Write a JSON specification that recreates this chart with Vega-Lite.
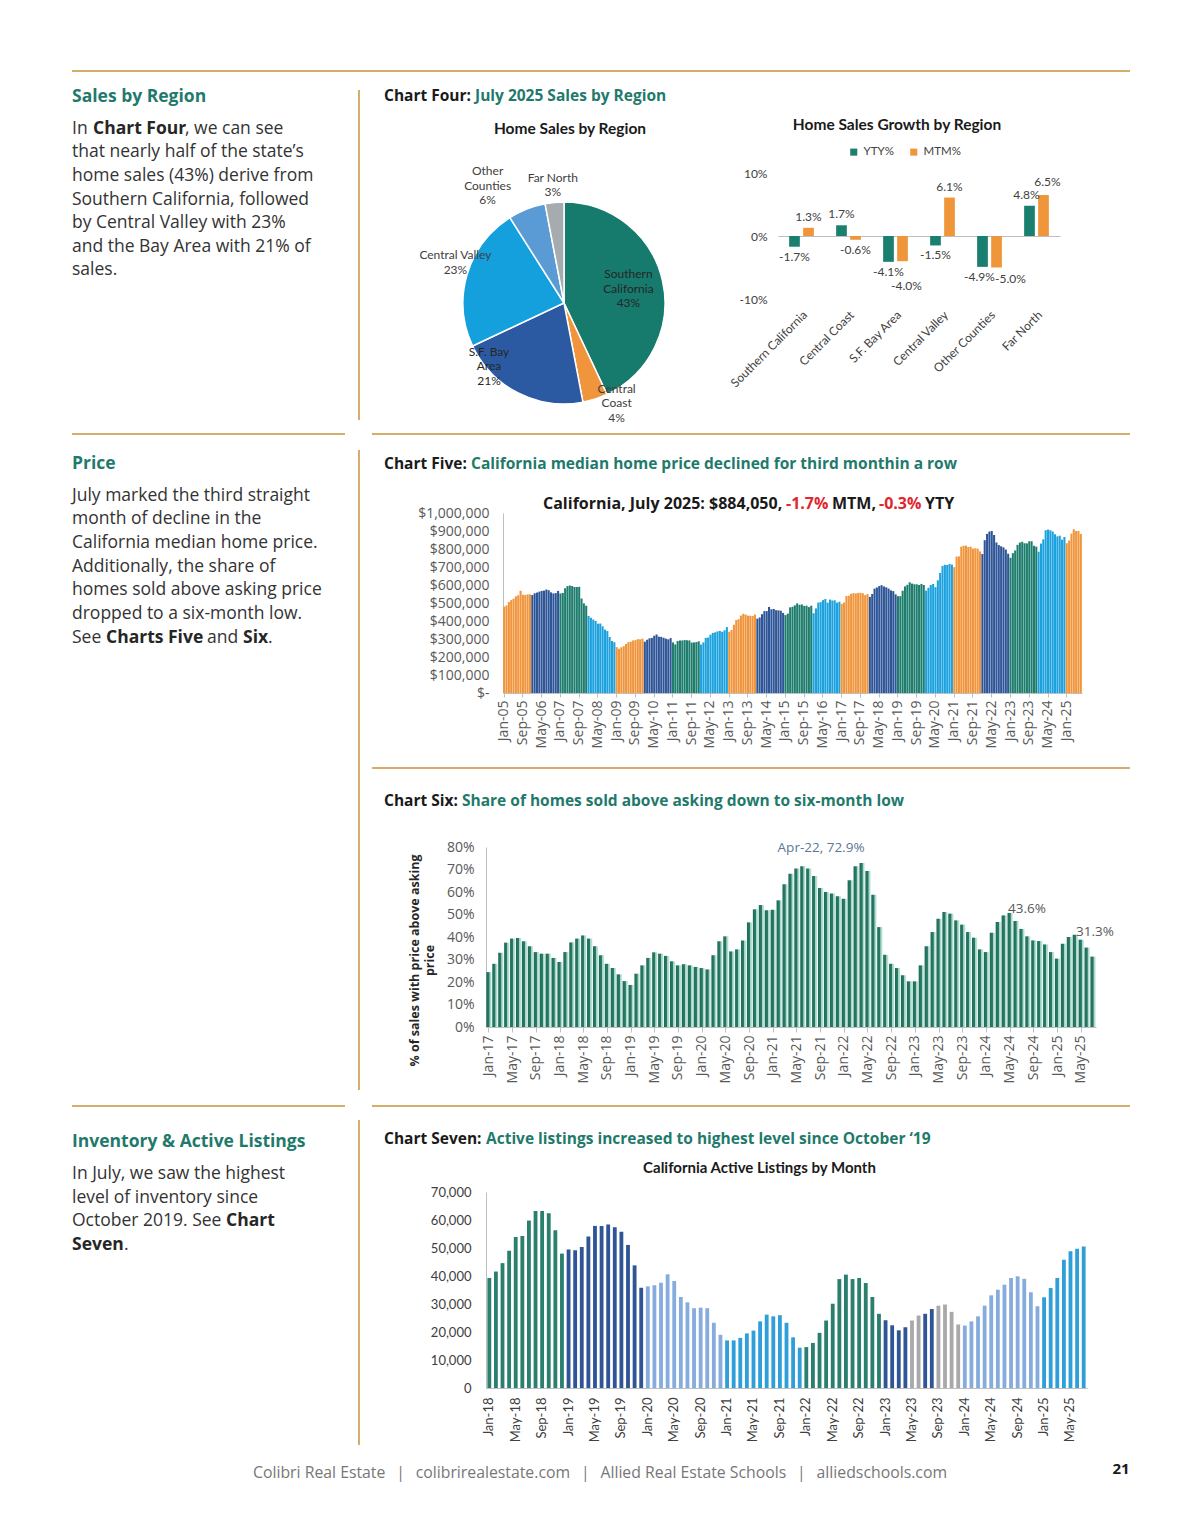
{"$schema":"https://vega.github.io/schema/vega-lite/v6.json",
"background":"white",
"padding":{"left":72,"top":70,"right":70,"bottom":50},
"config":{"view":{"stroke":null},"font":"Open Sans","axis":{"grid":false,"domainColor":"#bfbfbf","tickColor":"#bfbfbf","labelColor":"#595959","titleColor":"#262626"},"title":{"frame":"group"}},
"datasets":{
"pie":[
{"r":"Southern California","s":43,"o":1,"lab":["Southern","California","43%"]},
{"r":"Central Coast","s":4,"o":2,"lab":["Central","Coast","4%"]},
{"r":"S.F. Bay Area","s":21,"o":3,"lab":["S.F. Bay","Area","21%"]},
{"r":"Central Valley","s":23,"o":4,"lab":["Central Valley","23%"]},
{"r":"Other Counties","s":6,"o":5,"lab":["Other","Counties","6%"]},
{"r":"Far North","s":3,"o":6,"lab":["Far North","3%"]}],
"growth":[
{"r":"Southern California","k":"YTY%","v":-0.017},{"r":"Southern California","k":"MTM%","v":0.013},
{"r":"Central Coast","k":"YTY%","v":0.017},{"r":"Central Coast","k":"MTM%","v":-0.006},
{"r":"S.F. Bay Area","k":"YTY%","v":-0.041},{"r":"S.F. Bay Area","k":"MTM%","v":-0.040},
{"r":"Central Valley","k":"YTY%","v":-0.015},{"r":"Central Valley","k":"MTM%","v":0.061},
{"r":"Other Counties","k":"YTY%","v":-0.049},{"r":"Other Counties","k":"MTM%","v":-0.050},
{"r":"Far North","k":"YTY%","v":0.048},{"r":"Far North","k":"MTM%","v":0.065}],
"price":[
{"m":"Jan-05","v":480000,"y":"2005"},{"m":"Feb-05","v":486000,"y":"2005"},{"m":"Mar-05","v":505000,"y":"2005"},{"m":"Apr-05","v":516000,"y":"2005"},{"m":"May-05","v":524000,"y":"2005"},{"m":"Jun-05","v":537000,"y":"2005"},{"m":"Jul-05","v":543000,"y":"2005"},{"m":"Aug-05","v":568000,"y":"2005"},{"m":"Sep-05","v":546000,"y":"2005"},{"m":"Oct-05","v":544000,"y":"2005"},{"m":"Nov-05","v":548000,"y":"2005"},{"m":"Dec-05","v":548000,"y":"2005"},
{"m":"Jan-06","v":544000,"y":"2006"},{"m":"Feb-06","v":554000,"y":"2006"},{"m":"Mar-06","v":558000,"y":"2006"},{"m":"Apr-06","v":563000,"y":"2006"},{"m":"May-06","v":567000,"y":"2006"},{"m":"Jun-06","v":569000,"y":"2006"},{"m":"Jul-06","v":575000,"y":"2006"},{"m":"Aug-06","v":571000,"y":"2006"},{"m":"Sep-06","v":559000,"y":"2006"},{"m":"Oct-06","v":553000,"y":"2006"},{"m":"Nov-06","v":555000,"y":"2006"},{"m":"Dec-06","v":567000,"y":"2006"},
{"m":"Jan-07","v":553000,"y":"2007"},{"m":"Feb-07","v":556000,"y":"2007"},{"m":"Mar-07","v":582000,"y":"2007"},{"m":"Apr-07","v":594000,"y":"2007"},{"m":"May-07","v":597000,"y":"2007"},{"m":"Jun-07","v":594000,"y":"2007"},{"m":"Jul-07","v":589000,"y":"2007"},{"m":"Aug-07","v":589000,"y":"2007"},{"m":"Sep-07","v":590000,"y":"2007"},{"m":"Oct-07","v":525000,"y":"2007"},{"m":"Nov-07","v":498000,"y":"2007"},{"m":"Dec-07","v":485000,"y":"2007"},
{"m":"Jan-08","v":428000,"y":"2008"},{"m":"Feb-08","v":418000,"y":"2008"},{"m":"Mar-08","v":408000,"y":"2008"},{"m":"Apr-08","v":400000,"y":"2008"},{"m":"May-08","v":385000,"y":"2008"},{"m":"Jun-08","v":386000,"y":"2008"},{"m":"Jul-08","v":370000,"y":"2008"},{"m":"Aug-08","v":352000,"y":"2008"},{"m":"Sep-08","v":344000,"y":"2008"},{"m":"Oct-08","v":311000,"y":"2008"},{"m":"Nov-08","v":289000,"y":"2008"},{"m":"Dec-08","v":282000,"y":"2008"},
{"m":"Jan-09","v":255000,"y":"2009"},{"m":"Feb-09","v":246000,"y":"2009"},{"m":"Mar-09","v":254000,"y":"2009"},{"m":"Apr-09","v":260000,"y":"2009"},{"m":"May-09","v":272000,"y":"2009"},{"m":"Jun-09","v":283000,"y":"2009"},{"m":"Jul-09","v":285000,"y":"2009"},{"m":"Aug-09","v":292000,"y":"2009"},{"m":"Sep-09","v":294000,"y":"2009"},{"m":"Oct-09","v":299000,"y":"2009"},{"m":"Nov-09","v":298000,"y":"2009"},{"m":"Dec-09","v":302000,"y":"2009"},
{"m":"Jan-10","v":285000,"y":"2010"},{"m":"Feb-10","v":296000,"y":"2010"},{"m":"Mar-10","v":304000,"y":"2010"},{"m":"Apr-10","v":306000,"y":"2010"},{"m":"May-10","v":318000,"y":"2010"},{"m":"Jun-10","v":325000,"y":"2010"},{"m":"Jul-10","v":313000,"y":"2010"},{"m":"Aug-10","v":312000,"y":"2010"},{"m":"Sep-10","v":307000,"y":"2010"},{"m":"Oct-10","v":302000,"y":"2010"},{"m":"Nov-10","v":298000,"y":"2010"},{"m":"Dec-10","v":305000,"y":"2010"},
{"m":"Jan-11","v":281000,"y":"2011"},{"m":"Feb-11","v":270000,"y":"2011"},{"m":"Mar-11","v":289000,"y":"2011"},{"m":"Apr-11","v":292000,"y":"2011"},{"m":"May-11","v":292000,"y":"2011"},{"m":"Jun-11","v":294000,"y":"2011"},{"m":"Jul-11","v":293000,"y":"2011"},{"m":"Aug-11","v":292000,"y":"2011"},{"m":"Sep-11","v":280000,"y":"2011"},{"m":"Oct-11","v":281000,"y":"2011"},{"m":"Nov-11","v":283000,"y":"2011"},{"m":"Dec-11","v":287000,"y":"2011"},
{"m":"Jan-12","v":269000,"y":"2012"},{"m":"Feb-12","v":281000,"y":"2012"},{"m":"Mar-12","v":306000,"y":"2012"},{"m":"Apr-12","v":308000,"y":"2012"},{"m":"May-12","v":324000,"y":"2012"},{"m":"Jun-12","v":334000,"y":"2012"},{"m":"Jul-12","v":337000,"y":"2012"},{"m":"Aug-12","v":342000,"y":"2012"},{"m":"Sep-12","v":345000,"y":"2012"},{"m":"Oct-12","v":340000,"y":"2012"},{"m":"Nov-12","v":348000,"y":"2012"},{"m":"Dec-12","v":366000,"y":"2012"},
{"m":"Jan-13","v":340000,"y":"2013"},{"m":"Feb-13","v":350000,"y":"2013"},{"m":"Mar-13","v":379000,"y":"2013"},{"m":"Apr-13","v":405000,"y":"2013"},{"m":"May-13","v":410000,"y":"2013"},{"m":"Jun-13","v":430000,"y":"2013"},{"m":"Jul-13","v":440000,"y":"2013"},{"m":"Aug-13","v":436000,"y":"2013"},{"m":"Sep-13","v":430000,"y":"2013"},{"m":"Oct-13","v":429000,"y":"2013"},{"m":"Nov-13","v":428000,"y":"2013"},{"m":"Dec-13","v":436000,"y":"2013"},
{"m":"Jan-14","v":413000,"y":"2014"},{"m":"Feb-14","v":419000,"y":"2014"},{"m":"Mar-14","v":438000,"y":"2014"},{"m":"Apr-14","v":455000,"y":"2014"},{"m":"May-14","v":455000,"y":"2014"},{"m":"Jun-14","v":478000,"y":"2014"},{"m":"Jul-14","v":465000,"y":"2014"},{"m":"Aug-14","v":467000,"y":"2014"},{"m":"Sep-14","v":460000,"y":"2014"},{"m":"Oct-14","v":459000,"y":"2014"},{"m":"Nov-14","v":457000,"y":"2014"},{"m":"Dec-14","v":445000,"y":"2014"},
{"m":"Jan-15","v":433000,"y":"2015"},{"m":"Feb-15","v":441000,"y":"2015"},{"m":"Mar-15","v":476000,"y":"2015"},{"m":"Apr-15","v":479000,"y":"2015"},{"m":"May-15","v":487000,"y":"2015"},{"m":"Jun-15","v":498000,"y":"2015"},{"m":"Jul-15","v":490000,"y":"2015"},{"m":"Aug-15","v":492000,"y":"2015"},{"m":"Sep-15","v":484000,"y":"2015"},{"m":"Oct-15","v":485000,"y":"2015"},{"m":"Nov-15","v":477000,"y":"2015"},{"m":"Dec-15","v":485000,"y":"2015"},
{"m":"Jan-16","v":443000,"y":"2016"},{"m":"Feb-16","v":470000,"y":"2016"},{"m":"Mar-16","v":502000,"y":"2016"},{"m":"Apr-16","v":505000,"y":"2016"},{"m":"May-16","v":516000,"y":"2016"},{"m":"Jun-16","v":522000,"y":"2016"},{"m":"Jul-16","v":502000,"y":"2016"},{"m":"Aug-16","v":519000,"y":"2016"},{"m":"Sep-16","v":514000,"y":"2016"},{"m":"Oct-16","v":515000,"y":"2016"},{"m":"Nov-16","v":502000,"y":"2016"},{"m":"Dec-16","v":507000,"y":"2016"},
{"m":"Jan-17","v":495000,"y":"2017"},{"m":"Feb-17","v":503000,"y":"2017"},{"m":"Mar-17","v":539000,"y":"2017"},{"m":"Apr-17","v":540000,"y":"2017"},{"m":"May-17","v":551000,"y":"2017"},{"m":"Jun-17","v":555000,"y":"2017"},{"m":"Jul-17","v":553000,"y":"2017"},{"m":"Aug-17","v":556000,"y":"2017"},{"m":"Sep-17","v":557000,"y":"2017"},{"m":"Oct-17","v":554000,"y":"2017"},{"m":"Nov-17","v":544000,"y":"2017"},{"m":"Dec-17","v":550000,"y":"2017"},
{"m":"Jan-18","v":534000,"y":"2018"},{"m":"Feb-18","v":550000,"y":"2018"},{"m":"Mar-18","v":580000,"y":"2018"},{"m":"Apr-18","v":586000,"y":"2018"},{"m":"May-18","v":594000,"y":"2018"},{"m":"Jun-18","v":599000,"y":"2018"},{"m":"Jul-18","v":592000,"y":"2018"},{"m":"Aug-18","v":587000,"y":"2018"},{"m":"Sep-18","v":580000,"y":"2018"},{"m":"Oct-18","v":570000,"y":"2018"},{"m":"Nov-18","v":566000,"y":"2018"},{"m":"Dec-18","v":548000,"y":"2018"},
{"m":"Jan-19","v":538000,"y":"2019"},{"m":"Feb-19","v":538000,"y":"2019"},{"m":"Mar-19","v":568000,"y":"2019"},{"m":"Apr-19","v":592000,"y":"2019"},{"m":"May-19","v":601000,"y":"2019"},{"m":"Jun-19","v":615000,"y":"2019"},{"m":"Jul-19","v":608000,"y":"2019"},{"m":"Aug-19","v":604000,"y":"2019"},{"m":"Sep-19","v":604000,"y":"2019"},{"m":"Oct-19","v":600000,"y":"2019"},{"m":"Nov-19","v":606000,"y":"2019"},{"m":"Dec-19","v":600000,"y":"2019"},
{"m":"Jan-20","v":569000,"y":"2020"},{"m":"Feb-20","v":585000,"y":"2020"},{"m":"Mar-20","v":600000,"y":"2020"},{"m":"Apr-20","v":606000,"y":"2020"},{"m":"May-20","v":588000,"y":"2020"},{"m":"Jun-20","v":626000,"y":"2020"},{"m":"Jul-20","v":667000,"y":"2020"},{"m":"Aug-20","v":706000,"y":"2020"},{"m":"Sep-20","v":712000,"y":"2020"},{"m":"Oct-20","v":711000,"y":"2020"},{"m":"Nov-20","v":717000,"y":"2020"},{"m":"Dec-20","v":713000,"y":"2020"},
{"m":"Jan-21","v":699000,"y":"2021"},{"m":"Feb-21","v":758000,"y":"2021"},{"m":"Mar-21","v":759000,"y":"2021"},{"m":"Apr-21","v":813000,"y":"2021"},{"m":"May-21","v":818000,"y":"2021"},{"m":"Jun-21","v":819000,"y":"2021"},{"m":"Jul-21","v":811000,"y":"2021"},{"m":"Aug-21","v":813000,"y":"2021"},{"m":"Sep-21","v":802000,"y":"2021"},{"m":"Oct-21","v":804000,"y":"2021"},{"m":"Nov-21","v":802000,"y":"2021"},{"m":"Dec-21","v":787000,"y":"2021"},
{"m":"Jan-22","v":772000,"y":"2022"},{"m":"Feb-22","v":849000,"y":"2022"},{"m":"Mar-22","v":884000,"y":"2022"},{"m":"Apr-22","v":897000,"y":"2022"},{"m":"May-22","v":900000,"y":"2022"},{"m":"Jun-22","v":878000,"y":"2022"},{"m":"Jul-22","v":836000,"y":"2022"},{"m":"Aug-22","v":822000,"y":"2022"},{"m":"Sep-22","v":815000,"y":"2022"},{"m":"Oct-22","v":809000,"y":"2022"},{"m":"Nov-22","v":797000,"y":"2022"},{"m":"Dec-22","v":774000,"y":"2022"},
{"m":"Jan-23","v":751000,"y":"2023"},{"m":"Feb-23","v":777000,"y":"2023"},{"m":"Mar-23","v":792000,"y":"2023"},{"m":"Apr-23","v":823000,"y":"2023"},{"m":"May-23","v":836000,"y":"2023"},{"m":"Jun-23","v":840000,"y":"2023"},{"m":"Jul-23","v":832000,"y":"2023"},{"m":"Aug-23","v":831000,"y":"2023"},{"m":"Sep-23","v":843000,"y":"2023"},{"m":"Oct-23","v":843000,"y":"2023"},{"m":"Nov-23","v":818000,"y":"2023"},{"m":"Dec-23","v":813000,"y":"2023"},
{"m":"Jan-24","v":785000,"y":"2024"},{"m":"Feb-24","v":830000,"y":"2024"},{"m":"Mar-24","v":854000,"y":"2024"},{"m":"Apr-24","v":904000,"y":"2024"},{"m":"May-24","v":908000,"y":"2024"},{"m":"Jun-24","v":904000,"y":"2024"},{"m":"Jul-24","v":897000,"y":"2024"},{"m":"Aug-24","v":882000,"y":"2024"},{"m":"Sep-24","v":870000,"y":"2024"},{"m":"Oct-24","v":874000,"y":"2024"},{"m":"Nov-24","v":852000,"y":"2024"},{"m":"Dec-24","v":867000,"y":"2024"},
{"m":"Jan-25","v":832000,"y":"2025"},{"m":"Feb-25","v":847000,"y":"2025"},{"m":"Mar-25","v":885000,"y":"2025"},{"m":"Apr-25","v":910000,"y":"2025"},{"m":"May-25","v":900000,"y":"2025"},{"m":"Jun-25","v":900000,"y":"2025"},{"m":"Jul-25","v":884000,"y":"2025"}],
"share":[
{"m":"Jan-17","v":0.244},{"m":"Feb-17","v":0.281},{"m":"Mar-17","v":0.330},{"m":"Apr-17","v":0.375},{"m":"May-17","v":0.393},{"m":"Jun-17","v":0.396},{"m":"Jul-17","v":0.381},{"m":"Aug-17","v":0.359},{"m":"Sep-17","v":0.333},{"m":"Oct-17","v":0.326},{"m":"Nov-17","v":0.326},{"m":"Dec-17","v":0.307},
{"m":"Jan-18","v":0.289},{"m":"Feb-18","v":0.333},{"m":"Mar-18","v":0.376},{"m":"Apr-18","v":0.393},{"m":"May-18","v":0.407},{"m":"Jun-18","v":0.393},{"m":"Jul-18","v":0.359},{"m":"Aug-18","v":0.319},{"m":"Sep-18","v":0.281},{"m":"Oct-18","v":0.262},{"m":"Nov-18","v":0.234},{"m":"Dec-18","v":0.204},
{"m":"Jan-19","v":0.187},{"m":"Feb-19","v":0.237},{"m":"Mar-19","v":0.274},{"m":"Apr-19","v":0.307},{"m":"May-19","v":0.332},{"m":"Jun-19","v":0.326},{"m":"Jul-19","v":0.316},{"m":"Aug-19","v":0.292},{"m":"Sep-19","v":0.274},{"m":"Oct-19","v":0.279},{"m":"Nov-19","v":0.274},{"m":"Dec-19","v":0.267},
{"m":"Jan-20","v":0.262},{"m":"Feb-20","v":0.256},{"m":"Mar-20","v":0.319},{"m":"Apr-20","v":0.381},{"m":"May-20","v":0.403},{"m":"Jun-20","v":0.336},{"m":"Jul-20","v":0.345},{"m":"Aug-20","v":0.385},{"m":"Sep-20","v":0.465},{"m":"Oct-20","v":0.523},{"m":"Nov-20","v":0.542},{"m":"Dec-20","v":0.519},
{"m":"Jan-21","v":0.521},{"m":"Feb-21","v":0.563},{"m":"Mar-21","v":0.634},{"m":"Apr-21","v":0.681},{"m":"May-21","v":0.704},{"m":"Jun-21","v":0.714},{"m":"Jul-21","v":0.704},{"m":"Aug-21","v":0.671},{"m":"Sep-21","v":0.618},{"m":"Oct-21","v":0.600},{"m":"Nov-21","v":0.593},{"m":"Dec-21","v":0.581},
{"m":"Jan-22","v":0.570},{"m":"Feb-22","v":0.652},{"m":"Mar-22","v":0.714},{"m":"Apr-22","v":0.729,"lab":"Apr-22, 72.9%"},{"m":"May-22","v":0.693},{"m":"Jun-22","v":0.588},{"m":"Jul-22","v":0.444},{"m":"Aug-22","v":0.321},{"m":"Sep-22","v":0.281},{"m":"Oct-22","v":0.262},{"m":"Nov-22","v":0.230},{"m":"Dec-22","v":0.203},
{"m":"Jan-23","v":0.203},{"m":"Feb-23","v":0.274},{"m":"Mar-23","v":0.359},{"m":"Apr-23","v":0.422},{"m":"May-23","v":0.481},{"m":"Jun-23","v":0.511},{"m":"Jul-23","v":0.504},{"m":"Aug-23","v":0.474},{"m":"Sep-23","v":0.455},{"m":"Oct-23","v":0.422},{"m":"Nov-23","v":0.397},{"m":"Dec-23","v":0.345},
{"m":"Jan-24","v":0.333},{"m":"Feb-24","v":0.419},{"m":"Mar-24","v":0.467},{"m":"Apr-24","v":0.496},{"m":"May-24","v":0.507},{"m":"Jun-24","v":0.471},{"m":"Jul-24","v":0.436,"lab":"43.6%"},{"m":"Aug-24","v":0.403},{"m":"Sep-24","v":0.385},{"m":"Oct-24","v":0.382},{"m":"Nov-24","v":0.367},{"m":"Dec-24","v":0.333},
{"m":"Jan-25","v":0.304},{"m":"Feb-25","v":0.370},{"m":"Mar-25","v":0.400},{"m":"Apr-25","v":0.410},{"m":"May-25","v":0.388},{"m":"Jun-25","v":0.353},{"m":"Jul-25","v":0.313,"lab":"31.3%"}],
"listings":[
{"m":"Jan-18","v":39300,"c":"2018"},{"m":"Feb-18","v":41600,"c":"2018"},{"m":"Mar-18","v":44600,"c":"2018"},{"m":"Apr-18","v":49000,"c":"2018"},{"m":"May-18","v":53900,"c":"2018"},{"m":"Jun-18","v":54300,"c":"2018"},{"m":"Jul-18","v":59800,"c":"2018"},{"m":"Aug-18","v":63200,"c":"2018"},{"m":"Sep-18","v":63200,"c":"2018"},{"m":"Oct-18","v":62400,"c":"2018"},{"m":"Nov-18","v":56300,"c":"2018"},{"m":"Dec-18","v":48000,"c":"2018"},
{"m":"Jan-19","v":49500,"c":"2019"},{"m":"Feb-19","v":49200,"c":"2019"},{"m":"Mar-19","v":50400,"c":"2019"},{"m":"Apr-19","v":54100,"c":"2019"},{"m":"May-19","v":57900,"c":"2019"},{"m":"Jun-19","v":57900,"c":"2019"},{"m":"Jul-19","v":58400,"c":"2019"},{"m":"Aug-19","v":57400,"c":"2019"},{"m":"Sep-19","v":55800,"c":"2019"},{"m":"Oct-19","v":51100,"c":"2019"},{"m":"Nov-19","v":43800,"c":"2019"},{"m":"Dec-19","v":35800,"c":"2019"},
{"m":"Jan-20","v":36300,"c":"2020"},{"m":"Feb-20","v":36700,"c":"2020"},{"m":"Mar-20","v":37600,"c":"2020"},{"m":"Apr-20","v":40600,"c":"2020"},{"m":"May-20","v":38200,"c":"2020"},{"m":"Jun-20","v":32500,"c":"2020"},{"m":"Jul-20","v":30600,"c":"2020"},{"m":"Aug-20","v":28500,"c":"2020"},{"m":"Sep-20","v":28700,"c":"2020"},{"m":"Oct-20","v":28500,"c":"2020"},{"m":"Nov-20","v":23300,"c":"2020"},{"m":"Dec-20","v":19000,"c":"2020"},
{"m":"Jan-21","v":17000,"c":"2021"},{"m":"Feb-21","v":17000,"c":"2021"},{"m":"Mar-21","v":17900,"c":"2021"},{"m":"Apr-21","v":19500,"c":"2021"},{"m":"May-21","v":20500,"c":"2021"},{"m":"Jun-21","v":23800,"c":"2021"},{"m":"Jul-21","v":26200,"c":"2021"},{"m":"Aug-21","v":25600,"c":"2021"},{"m":"Sep-21","v":26000,"c":"2021"},{"m":"Oct-21","v":23300,"c":"2021"},{"m":"Nov-21","v":18100,"c":"2021"},{"m":"Dec-21","v":14400,"c":"2021"},
{"m":"Jan-22","v":14600,"c":"2022"},{"m":"Feb-22","v":16100,"c":"2022"},{"m":"Mar-22","v":19700,"c":"2022"},{"m":"Apr-22","v":24100,"c":"2022"},{"m":"May-22","v":30100,"c":"2022"},{"m":"Jun-22","v":38900,"c":"2022"},{"m":"Jul-22","v":40500,"c":"2022"},{"m":"Aug-22","v":38900,"c":"2022"},{"m":"Sep-22","v":39300,"c":"2022"},{"m":"Oct-22","v":37500,"c":"2022"},{"m":"Nov-22","v":32500,"c":"2022"},{"m":"Dec-22","v":26500,"c":"2022"},
{"m":"Jan-23","v":24200,"c":"2023a"},{"m":"Feb-23","v":22400,"c":"2023a"},{"m":"Mar-23","v":20600,"c":"2023a"},{"m":"Apr-23","v":21700,"c":"2023a"},{"m":"May-23","v":24100,"c":"2023b"},{"m":"Jun-23","v":25900,"c":"2023b"},{"m":"Jul-23","v":26500,"c":"2023a"},{"m":"Aug-23","v":28200,"c":"2023a"},{"m":"Sep-23","v":29400,"c":"2023b"},{"m":"Oct-23","v":29800,"c":"2023b"},{"m":"Nov-23","v":27200,"c":"2023b"},{"m":"Dec-23","v":22700,"c":"2023b"},
{"m":"Jan-24","v":22300,"c":"2024"},{"m":"Feb-24","v":23800,"c":"2024"},{"m":"Mar-24","v":25600,"c":"2024"},{"m":"Apr-24","v":29400,"c":"2024"},{"m":"May-24","v":33100,"c":"2024"},{"m":"Jun-24","v":35100,"c":"2024"},{"m":"Jul-24","v":36900,"c":"2024"},{"m":"Aug-24","v":39300,"c":"2024"},{"m":"Sep-24","v":39900,"c":"2024"},{"m":"Oct-24","v":39000,"c":"2024"},{"m":"Nov-24","v":34200,"c":"2024"},{"m":"Dec-24","v":29200,"c":"2024"},
{"m":"Jan-25","v":32400,"c":"2025"},{"m":"Feb-25","v":35700,"c":"2025"},{"m":"Mar-25","v":39300,"c":"2025"},{"m":"Apr-25","v":45800,"c":"2025"},{"m":"May-25","v":48800,"c":"2025"},{"m":"Jun-25","v":49700,"c":"2025"},{"m":"Jul-25","v":50500,"c":"2025"}]
},
"spacing":0,"bounds":"flush",
"resolve":{"scale":{"color":"independent"},"legend":{"color":"independent"}},
"vconcat":[
{"spacing":0,"bounds":"flush","hconcat":[
 {"width":300,"height":2,"data":{"values":[]},"mark":"rule","encoding":{},"view":{"fill":"#d6ad6a","stroke":null},
  "title":{"text":"Sales by Region","orient":"bottom","anchor":"start","frame":"group","offset":16,"font":"Open Sans","fontSize":17.5,"fontWeight":"bold","color":"#1f7a6c",
   "subtitle":["","that nearly half of the state’s","home sales (43%) derive from","Southern California, followed","by Central Valley with 23%","and the Bay Area with 21% of","sales."],
   "subtitleFont":"Open Sans","subtitleFontSize":17.5,"subtitleColor":"#333333","subtitleLineHeight":23.6,"subtitlePadding":14.4}},
 {"width":103,"height":2,"data":{"values":[]},"mark":"rule","encoding":{},"view":{"fill":"#d6ad6a","stroke":null},
  "title":{"text":"Chart Four:","orient":"bottom","anchor":"start","frame":"group","offset":16.8,"dx":12,"font":"Open Sans","fontSize":15.5,"fontWeight":"bold","color":"#1a1a1a"}},
 {"width":655,"height":2,"data":{"values":[]},"mark":"rule","encoding":{},"view":{"fill":"#d6ad6a","stroke":null},
  "title":{"text":"July 2025 Sales by Region","orient":"bottom","anchor":"start","frame":"group","offset":16.8,"font":"Open Sans","fontSize":15.5,"fontWeight":"bold","color":"#1f7a6c"}}
]},
{"spacing":0,"bounds":"flush","hconcat":[
 {"width":20.1,"height":2,"data":{"values":[]},"mark":"rule","encoding":{},"title":{"text":"In","orient":"bottom","anchor":"start","frame":"group","offset":47.9,"font":"Open Sans","fontSize":17.5,"fontWeight":"normal","color":"#333333"}},
 {"width":91.9,"height":2,"data":{"values":[]},"mark":"rule","encoding":{},"title":{"text":"Chart Four","orient":"bottom","anchor":"start","frame":"group","offset":47.9,"font":"Open Sans","fontSize":17.5,"fontWeight":"bold","color":"#262626"}},
 {"width":180,"height":2,"data":{"values":[]},"mark":"rule","encoding":{},"title":{"text":", we can see","orient":"bottom","anchor":"start","frame":"group","offset":47.9,"font":"Open Sans","fontSize":17.5,"fontWeight":"normal","color":"#333333"}}
]},
{"width":1058,"height":2,"data":{"values":[]},"mark":"rule","encoding":{}},
{"spacing":0,"bounds":"flush","resolve":{"scale":{"color":"independent"},"legend":{"color":"independent"}},"hconcat":[
 {"width":286,"height":1,"data":{"values":[]},"mark":"rule","encoding":{}},
 {"spacing":0,"bounds":"flush","vconcat":[
  {"width":2,"height":18,"data":{"values":[]},"mark":"rule","encoding":{}},
  {"width":2,"height":330,"data":{"values":[]},"mark":"rule","encoding":{},"view":{"fill":"#d6ad6a","stroke":null}}]},
 {"width":105,"height":1,"data":{"values":[]},"mark":"rule","encoding":{}},
 {"spacing":0,"bounds":"flush","resolve":{"scale":{"color":"independent"},"legend":{"color":"independent"}},"vconcat":[
  {"width":202,"height":130,"data":{"values":[]},"mark":"rule","encoding":{}},
  {"width":202,"height":202,"data":{"name":"pie"},
   "title":{"text":"Home Sales by Region","anchor":"middle","frame":"group","offset":11,"dx":6,"font":"Lato","fontSize":15.5,"fontWeight":"bold","color":"#1a1a1a"},
   "encoding":{"theta":{"field":"s","type":"quantitative","stack":true},"order":{"field":"o","type":"quantitative"}},
   "layer":[
    {"mark":{"type":"arc","stroke":"white","strokeWidth":1.5},"encoding":{"color":{"field":"r","type":"nominal","scale":{"domain":["Southern California","Central Coast","S.F. Bay Area","Central Valley","Other Counties","Far North"],"range":["#167a6c","#f0953c","#2b5aa3","#14a0dc","#5b9bd5","#a5abae"]},"legend":null}}},
    {"mark":{"type":"text","radius":66,"dy":-14.5,"font":"Lato","fontSize":12,"lineHeight":14.5,"color":"#262626"},"encoding":{"text":{"field":"lab"},"opacity":{"condition":{"test":"datum.o == 1","value":1},"value":0}}},
    {"mark":{"type":"text","radius":113,"thetaOffset":-0.17,"dy":-14.5,"font":"Lato","fontSize":12,"lineHeight":14.5,"color":"#404040"},"encoding":{"text":{"field":"lab"},"opacity":{"condition":{"test":"datum.o == 2","value":1},"value":0}}},
    {"mark":{"type":"text","radius":98,"thetaOffset":0.4,"dy":-14.5,"font":"Lato","fontSize":12,"lineHeight":14.5,"color":"#262626"},"encoding":{"text":{"field":"lab"},"opacity":{"condition":{"test":"datum.o == 3","value":1},"value":0}}},
    {"mark":{"type":"text","radius":116,"thetaOffset":0.077,"dy":-7,"font":"Lato","fontSize":12,"lineHeight":14.5,"color":"#404040"},"encoding":{"text":{"field":"lab"},"opacity":{"condition":{"test":"datum.o == 4","value":1},"value":0}}},
    {"mark":{"type":"text","radius":140,"thetaOffset":-0.2,"dy":-14.5,"font":"Lato","fontSize":12,"lineHeight":14.5,"color":"#404040"},"encoding":{"text":{"field":"lab"},"opacity":{"condition":{"test":"datum.o == 5","value":1},"value":0}}},
    {"mark":{"type":"text","radius":119,"dy":-7,"font":"Lato","fontSize":12,"lineHeight":14.5,"color":"#404040"},"encoding":{"text":{"field":"lab"},"opacity":{"condition":{"test":"datum.o == 6","value":1},"value":0}}}
   ]}]},
 {"width":315,"height":1,"data":{"values":[]},"mark":"rule","encoding":{}},
 {"spacing":0,"bounds":"flush","resolve":{"scale":{"color":"independent"},"legend":{"color":"independent"}},"vconcat":[
  {"width":282,"height":101,"data":{"values":[]},"mark":"rule","encoding":{}},
  {"width":282,"height":126,"data":{"name":"growth"},
   "title":{"text":"Home Sales Growth by Region","anchor":"middle","frame":"group","offset":12.7,"dx":-22,"font":"Lato","fontSize":15.5,"fontWeight":"bold","color":"#1a1a1a"},
   "encoding":{
    "x":{"field":"r","type":"nominal","sort":null,"scale":{"paddingInner":0.474,"paddingOuter":0.237},"axis":{"title":null,"labelAngle":-45,"domain":false,"ticks":false,"labelFont":"Lato","labelFontSize":12,"labelColor":"#404040","labelPadding":10,"labelOverlap":false}},
    "xOffset":{"field":"k","type":"nominal","sort":["YTY%","MTM%"],"scale":{"paddingInner":0.236}},
    "y":{"field":"v","type":"quantitative","scale":{"domain":[-0.1,0.1]},"axis":{"title":null,"values":[-0.1,0,0.1],"labelExpr":"replace(format(datum.value, '.0%'), '\u2212', '-')","domain":false,"ticks":false,"grid":true,"gridColor":{"condition":{"test":"datum.value === 0","value":"#bfbfbf"},"value":"transparent"},"labelFont":"Lato","labelFontSize":12,"labelColor":"#404040","labelPadding":11}}},
   "layer":[
    {"mark":{"type":"bar"},"encoding":{"color":{"field":"k","type":"nominal","sort":["YTY%","MTM%"],"scale":{"domain":["YTY%","MTM%"],"range":["#1a7f6e","#f0963a"]},"legend":{"orient":"none","legendX":70,"legendY":-27,"direction":"horizontal","title":null,"symbolType":"square","symbolSize":50,"symbolStrokeWidth":0,"labelFont":"Lato","labelFontSize":11.5,"labelColor":"#404040","columnPadding":14,"padding":0}}}},
    {"transform":[{"filter":"datum.v > 0 && datum.r != 'Far North'"}],"mark":{"type":"text","baseline":"bottom","dy":-4,"font":"Lato","fontSize":12,"color":"#404040","text":{"expr":"replace(format(datum.v, '.1%'), '\u2212', '-')"}}},
    {"transform":[{"filter":"datum.r == 'Far North' && datum.k == 'YTY%'"}],"mark":{"type":"text","baseline":"bottom","dy":-4,"dx":-3,"font":"Lato","fontSize":12,"color":"#404040","text":{"expr":"replace(format(datum.v, '.1%'), '\u2212', '-')"}}},
    {"transform":[{"filter":"datum.r == 'Far North' && datum.k == 'MTM%'"}],"mark":{"type":"text","baseline":"bottom","dy":-6,"dx":4,"font":"Lato","fontSize":12,"color":"#404040","text":{"expr":"replace(format(datum.v, '.1%'), '\u2212', '-')"}}},
    {"transform":[{"filter":"datum.v < 0 && !(datum.r == 'S.F. Bay Area' && datum.k == 'MTM%') && datum.r != 'Other Counties'"}],"mark":{"type":"text","baseline":"top","dy":5,"font":"Lato","fontSize":12,"color":"#404040","text":{"expr":"replace(format(datum.v, '.1%'), '\u2212', '-')"}}},
    {"transform":[{"filter":"datum.r == 'S.F. Bay Area' && datum.k == 'MTM%'"}],"mark":{"type":"text","baseline":"top","dy":20,"dx":4,"font":"Lato","fontSize":12,"color":"#404040","text":{"expr":"replace(format(datum.v, '.1%'), '\u2212', '-')"}}},
    {"transform":[{"filter":"datum.r == 'Other Counties' && datum.k == 'YTY%'"}],"mark":{"type":"text","baseline":"top","dy":5,"dx":-3,"font":"Lato","fontSize":12,"color":"#404040","text":{"expr":"replace(format(datum.v, '.1%'), '\u2212', '-')"}}},
    {"transform":[{"filter":"datum.r == 'Other Counties' && datum.k == 'MTM%'"}],"mark":{"type":"text","baseline":"top","dy":6,"dx":14,"font":"Lato","fontSize":12,"color":"#404040","text":{"expr":"replace(format(datum.v, '.1%'), '\u2212', '-')"}}}
   ]}]}
]},
{"width":1058,"height":361,"data":{"values":[]},"mark":"rule","encoding":{}},
{"spacing":0,"bounds":"flush","hconcat":[
 {"width":273,"height":2,"data":{"values":[]},"mark":"rule","encoding":{},"view":{"fill":"#d6ad6a","stroke":null},
  "title":{"text":"Price","orient":"bottom","anchor":"start","frame":"group","offset":20,"font":"Open Sans","fontSize":17.5,"fontWeight":"bold","color":"#1f7a6c",
   "subtitle":["July marked the third straight","month of decline in the","California median home price.","Additionally, the share of","homes sold above asking price","dropped to a six-month low."],
   "subtitleFont":"Open Sans","subtitleFontSize":17.5,"subtitleColor":"#333333","subtitleLineHeight":23.6,"subtitlePadding":14.4}},
 {"width":27,"height":2,"data":{"values":[]},"mark":"rule","encoding":{}},
 {"width":99,"height":2,"data":{"values":[]},"mark":"rule","encoding":{},"view":{"fill":"#d6ad6a","stroke":null},
  "title":{"text":"Chart Five:","orient":"bottom","anchor":"start","frame":"group","offset":22.3,"dx":12,"font":"Open Sans","fontSize":15.5,"fontWeight":"bold","color":"#1a1a1a"}},
 {"width":659,"height":2,"data":{"values":[]},"mark":"rule","encoding":{},"view":{"fill":"#d6ad6a","stroke":null},
  "title":{"text":"California median home price declined for third monthin a row","orient":"bottom","anchor":"start","frame":"group","offset":22.3,"font":"Open Sans","fontSize":15.5,"fontWeight":"bold","color":"#1f7a6c"}}
]},
{"spacing":0,"bounds":"flush","hconcat":[
 {"width":33.8,"height":2,"data":{"values":[]},"mark":"rule","encoding":{},"title":{"text":"See","orient":"bottom","anchor":"start","frame":"group","offset":193.5,"font":"Open Sans","fontSize":17.5,"fontWeight":"normal","color":"#333333"}},
 {"width":100.5,"height":2,"data":{"values":[]},"mark":"rule","encoding":{},"title":{"text":"Charts Five","orient":"bottom","anchor":"start","frame":"group","offset":193.5,"font":"Open Sans","fontSize":17.5,"fontWeight":"bold","color":"#262626"}},
 {"width":35.7,"height":2,"data":{"values":[]},"mark":"rule","encoding":{},"title":{"text":"and","orient":"bottom","anchor":"start","frame":"group","offset":193.5,"font":"Open Sans","fontSize":17.5,"fontWeight":"normal","color":"#333333"}},
 {"width":24.8,"height":2,"data":{"values":[]},"mark":"rule","encoding":{},"title":{"text":"Six","orient":"bottom","anchor":"start","frame":"group","offset":193.5,"font":"Open Sans","fontSize":17.5,"fontWeight":"bold","color":"#262626"}},
 {"width":10,"height":2,"data":{"values":[]},"mark":"rule","encoding":{},"title":{"text":".","orient":"bottom","anchor":"start","frame":"group","offset":193.5,"font":"Open Sans","fontSize":17.5,"fontWeight":"normal","color":"#333333"}}
]},
{"width":1058,"height":2,"data":{"values":[]},"mark":"rule","encoding":{}},
{"spacing":0,"bounds":"flush","resolve":{"scale":{"color":"independent"},"legend":{"color":"independent"}},"hconcat":[
 {"width":286,"height":1,"data":{"values":[]},"mark":"rule","encoding":{}},
 {"spacing":0,"bounds":"flush","vconcat":[
  {"width":2,"height":15,"data":{"values":[]},"mark":"rule","encoding":{}},
  {"width":2,"height":640,"data":{"values":[]},"mark":"rule","encoding":{},"view":{"fill":"#d6ad6a","stroke":null}}]},
 {"width":14,"height":1,"data":{"values":[]},"mark":"rule","encoding":{}},
 {"spacing":0,"bounds":"flush","resolve":{"scale":{"color":"independent"},"legend":{"color":"independent"}},"vconcat":[
  {"spacing":0,"bounds":"flush","hconcat":[
   {"width":171,"height":1,"data":{"values":[]},"mark":"rule","encoding":{}},
   {"width":243,"height":1,"data":{"values":[]},"mark":"rule","encoding":{},"title":{"text":"California, July 2025: $884,050,","orient":"bottom","anchor":"start","frame":"group","offset":59.8,"font":"Open Sans","fontSize":16,"fontWeight":"bold","color":"#1a1a1a"}},
   {"width":46,"height":1,"data":{"values":[]},"mark":"rule","encoding":{},"title":{"text":"-1.7%","orient":"bottom","anchor":"start","frame":"group","offset":59.8,"font":"Open Sans","fontSize":16,"fontWeight":"bold","color":"#e0262e"}},
   {"width":47,"height":1,"data":{"values":[]},"mark":"rule","encoding":{},"title":{"text":"MTM,","orient":"bottom","anchor":"start","frame":"group","offset":59.8,"font":"Open Sans","fontSize":16,"fontWeight":"bold","color":"#1a1a1a"}},
   {"width":46,"height":1,"data":{"values":[]},"mark":"rule","encoding":{},"title":{"text":"-0.3%","orient":"bottom","anchor":"start","frame":"group","offset":59.8,"font":"Open Sans","fontSize":16,"fontWeight":"bold","color":"#e0262e"}},
   {"width":27,"height":1,"data":{"values":[]},"mark":"rule","encoding":{},"title":{"text":"YTY","orient":"bottom","anchor":"start","frame":"group","offset":59.8,"font":"Open Sans","fontSize":16,"fontWeight":"bold","color":"#1a1a1a"}}]},
  {"width":758,"height":78,"data":{"values":[]},"mark":"rule","encoding":{}},
  {"spacing":0,"bounds":"flush","resolve":{"scale":{"color":"independent"},"legend":{"color":"independent"}},"hconcat":[
   {"width":131,"height":1,"data":{"values":[]},"mark":"rule","encoding":{}},
   {"width":579,"height":180,"data":{"name":"price"},
    "mark":{"type":"bar"},
    "encoding":{
     "x":{"field":"m","type":"ordinal","sort":null,"scale":{"paddingInner":0.12,"paddingOuter":0.06},"axis":{"title":null,"values":["Jan-05","Sep-05","May-06","Jan-07","Sep-07","May-08","Jan-09","Sep-09","May-10","Jan-11","Sep-11","May-12","Jan-13","Sep-13","May-14","Jan-15","Sep-15","May-16","Jan-17","Sep-17","May-18","Jan-19","Sep-19","May-20","Jan-21","Sep-21","May-22","Jan-23","Sep-23","May-24","Jan-25"],"labelAngle":-90,"labelFontSize":14,"labelPadding":3,"tickSize":4,"labelOverlap":false}},
     "y":{"field":"v","type":"quantitative","scale":{"domain":[0,1000000]},"axis":{"title":null,"values":[0,100000,200000,300000,400000,500000,600000,700000,800000,900000,1000000],"labelExpr":"datum.value == 0 ? '$-' : format(datum.value, '$,')","ticks":false,"labelFontSize":14,"labelPadding":14}},
     "color":{"field":"y","type":"nominal","scale":{"domain":["2005","2006","2007","2008","2009","2010","2011","2012","2013","2014","2015","2016","2017","2018","2019","2020","2021","2022","2023","2024","2025"],"range":["#f0953c","#2e5597","#1e7d6d","#1ba1dd","#f0953c","#2e5597","#1e7d6d","#1ba1dd","#f0953c","#2e5597","#1e7d6d","#1ba1dd","#f0953c","#2e5597","#1e7d6d","#1ba1dd","#f0953c","#2e5597","#1e7d6d","#1ba1dd","#f0953c"]},"legend":null}}}]},
  {"width":758,"height":254,"data":{"values":[]},"mark":"rule","encoding":{}},
  {"spacing":0,"bounds":"flush","hconcat":[
   {"width":90,"height":2,"data":{"values":[]},"mark":"rule","encoding":{},"view":{"fill":"#d6ad6a","stroke":null},
    "title":{"text":"Chart Six:","orient":"bottom","anchor":"start","frame":"group","offset":25.3,"dx":12,"font":"Open Sans","fontSize":15.5,"fontWeight":"bold","color":"#1a1a1a"}},
   {"width":668,"height":2,"data":{"values":[]},"mark":"rule","encoding":{},"view":{"fill":"#d6ad6a","stroke":null},
    "title":{"text":"Share of homes sold above asking down to six-month low","orient":"bottom","anchor":"start","frame":"group","offset":25.3,"font":"Open Sans","fontSize":15.5,"fontWeight":"bold","color":"#1f7a6c"}}]},
  {"width":758,"height":80,"data":{"values":[]},"mark":"rule","encoding":{}},
  {"spacing":0,"bounds":"flush","hconcat":[
   {"width":114,"height":1,"data":{"values":[]},"mark":"rule","encoding":{}},
   {"width":610,"height":180,"data":{"name":"share"},
    "encoding":{
     "x":{"field":"m","type":"ordinal","sort":null,"scale":{"paddingInner":0.12,"paddingOuter":0.06},"axis":{"title":null,"values":["Jan-17","May-17","Sep-17","Jan-18","May-18","Sep-18","Jan-19","May-19","Sep-19","Jan-20","May-20","Sep-20","Jan-21","May-21","Sep-21","Jan-22","May-22","Sep-22","Jan-23","May-23","Sep-23","Jan-24","May-24","Sep-24","Jan-25","May-25"],"labelAngle":-90,"labelFontSize":14,"labelPadding":3,"tickSize":5,"labelOverlap":false}},
     "y":{"field":"v","type":"quantitative","scale":{"domain":[0,0.8]},"axis":{"title":["% of sales with price above asking","price"],"titleFontSize":12.5,"titleFontWeight":"bold","titlePadding":10,"titleY":113,"values":[0,0.1,0.2,0.3,0.4,0.5,0.6,0.7,0.8],"format":".0%","ticks":false,"labelFontSize":14,"labelPadding":12}}},
    "layer":[
     {"mark":{"type":"bar","color":{"gradient":"linear","x1":0,"x2":1,"y1":0,"y2":0,"stops":[{"offset":0,"color":"#1d6b59"},{"offset":0.55,"color":"#2a7d69"},{"offset":0.65,"color":"#9fd2c1"},{"offset":1,"color":"#c6e8dc"}]}}},
     {"transform":[{"filter":"datum.m == 'Apr-22'"}],"mark":{"type":"text","dx":-41,"dy":-15,"fontSize":13.5,"color":"#5b7896"},"encoding":{"text":{"field":"lab"}}},
     {"transform":[{"filter":"datum.m == 'Jul-24'"}],"mark":{"type":"text","dx":5,"dy":-20,"fontSize":13.5,"color":"#595959"},"encoding":{"text":{"field":"lab"}}},
     {"transform":[{"filter":"datum.m == 'Jul-25'"}],"mark":{"type":"text","dx":2,"dy":-25,"fontSize":13.5,"color":"#595959"},"encoding":{"text":{"field":"lab"}}}
    ]}]}
 ]}
]},
{"width":1058,"height":670,"data":{"values":[]},"mark":"rule","encoding":{}},
{"spacing":0,"bounds":"flush","hconcat":[
 {"width":273,"height":2,"data":{"values":[]},"mark":"rule","encoding":{},"view":{"fill":"#d6ad6a","stroke":null},
  "title":{"text":"Inventory & Active Listings","orient":"bottom","anchor":"start","frame":"group","offset":25.5,"font":"Open Sans","fontSize":17.5,"fontWeight":"bold","color":"#1f7a6c",
   "subtitle":["In July, we saw the highest","level of inventory since"],
   "subtitleFont":"Open Sans","subtitleFontSize":17.5,"subtitleColor":"#333333","subtitleLineHeight":23.6,"subtitlePadding":15.2}},
 {"width":27,"height":2,"data":{"values":[]},"mark":"rule","encoding":{}},
 {"width":114,"height":2,"data":{"values":[]},"mark":"rule","encoding":{},"view":{"fill":"#d6ad6a","stroke":null},
  "title":{"text":"Chart Seven:","orient":"bottom","anchor":"start","frame":"group","offset":25.3,"dx":12,"font":"Open Sans","fontSize":15.5,"fontWeight":"bold","color":"#1a1a1a"}},
 {"width":644,"height":2,"data":{"values":[]},"mark":"rule","encoding":{},"view":{"fill":"#d6ad6a","stroke":null},
  "title":{"text":"Active listings increased to highest level since October ‘19","orient":"bottom","anchor":"start","frame":"group","offset":25.3,"font":"Open Sans","fontSize":15.5,"fontWeight":"bold","color":"#1f7a6c"}}
]},
{"spacing":0,"bounds":"flush","hconcat":[
 {"width":153.9,"height":2,"data":{"values":[]},"mark":"rule","encoding":{},"title":{"text":"October 2019. See","orient":"bottom","anchor":"start","frame":"group","offset":105.4,"font":"Open Sans","fontSize":17.5,"fontWeight":"normal","color":"#333333"}},
 {"width":60,"height":2,"data":{"values":[]},"mark":"rule","encoding":{},"title":{"text":"Chart","orient":"bottom","anchor":"start","frame":"group","offset":105.4,"font":"Open Sans","fontSize":17.5,"fontWeight":"bold","color":"#262626"}}
]},
{"spacing":0,"bounds":"flush","hconcat":[
 {"width":51.4,"height":2,"data":{"values":[]},"mark":"rule","encoding":{},"title":{"text":"Seven","orient":"bottom","anchor":"start","frame":"group","offset":129,"font":"Open Sans","fontSize":17.5,"fontWeight":"bold","color":"#262626"}},
 {"width":10,"height":2,"data":{"values":[]},"mark":"rule","encoding":{},"title":{"text":".","orient":"bottom","anchor":"start","frame":"group","offset":129,"font":"Open Sans","fontSize":17.5,"fontWeight":"normal","color":"#333333"}}
]},
{"width":1058,"height":2,"data":{"values":[]},"mark":"rule","encoding":{}},
{"spacing":0,"bounds":"flush","resolve":{"scale":{"color":"independent"},"legend":{"color":"independent"}},"hconcat":[
 {"width":286,"height":1,"data":{"values":[]},"mark":"rule","encoding":{}},
 {"spacing":0,"bounds":"flush","vconcat":[
  {"width":2,"height":13,"data":{"values":[]},"mark":"rule","encoding":{}},
  {"width":2,"height":325,"data":{"values":[]},"mark":"rule","encoding":{},"view":{"fill":"#d6ad6a","stroke":null}}]},
 {"width":14,"height":1,"data":{"values":[]},"mark":"rule","encoding":{}},
 {"spacing":0,"bounds":"flush","resolve":{"scale":{"color":"independent"},"legend":{"color":"independent"}},"vconcat":[
  {"width":758,"height":85,"data":{"values":[]},"mark":"rule","encoding":{}},
  {"spacing":0,"bounds":"flush","resolve":{"scale":{"color":"independent"},"legend":{"color":"independent"}},"hconcat":[
   {"width":114,"height":1,"data":{"values":[]},"mark":"rule","encoding":{}},
   {"width":601,"height":196,"data":{"name":"listings"},
    "title":{"text":"California Active Listings by Month","anchor":"middle","frame":"group","offset":10,"dx":-27,"font":"Lato","fontSize":15,"fontWeight":"bold","color":"#1a1a1a"},
    "mark":{"type":"bar"},
    "encoding":{
     "x":{"field":"m","type":"ordinal","sort":null,"scale":{"paddingInner":0.42,"paddingOuter":0.21},"axis":{"title":null,"values":["Jan-18","May-18","Sep-18","Jan-19","May-19","Sep-19","Jan-20","May-20","Sep-20","Jan-21","May-21","Sep-21","Jan-22","May-22","Sep-22","Jan-23","May-23","Sep-23","Jan-24","May-24","Sep-24","Jan-25","May-25"],"labelAngle":-90,"labelFont":"Lato","labelFontSize":13,"labelColor":"#404040","labelPadding":9,"ticks":false,"labelOverlap":false}},
     "y":{"field":"v","type":"quantitative","scale":{"domain":[0,70000]},"axis":{"title":null,"values":[0,10000,20000,30000,40000,50000,60000,70000],"format":",.0f","ticks":false,"labelFont":"Lato","labelFontSize":13,"labelColor":"#404040","labelPadding":15}},
     "color":{"field":"c","type":"nominal","scale":{"domain":["2018","2019","2020","2021","2022","2023a","2023b","2024","2025"],"range":["#2b7f6e","#2f5597","#86acdd","#2e9fd9","#2b7f6e","#2f5597","#a9a9a9","#86acdd","#2e9fd9"]},"legend":null}}}]}
 ]}
]},
{"width":1058,"height":348,"data":{"values":[]},"mark":"rule","encoding":{}},
{"spacing":0,"bounds":"flush","hconcat":[
 {"width":1040,"height":1,"data":{"values":[]},"mark":"rule","encoding":{},
  "title":{"text":"Colibri Real Estate\u00a0\u00a0\u2009|\u2009\u00a0\u00a0colibrirealestate.com\u00a0\u00a0\u2009|\u2009\u00a0\u00a0Allied Real Estate Schools\u00a0\u00a0\u2009|\u2009\u00a0\u00a0alliedschools.com","orient":"bottom","anchor":"middle","frame":"group","offset":10,"dx":8,"font":"Open Sans","fontSize":15.8,"fontWeight":"normal","color":"#777777"}},
 {"width":18,"height":1,"data":{"values":[]},"mark":"rule","encoding":{},
  "title":{"text":"21","orient":"bottom","anchor":"middle","frame":"group","offset":6,"font":"Open Sans","fontSize":15,"fontWeight":"bold","color":"#1a1a1a"}}
]}
]}
